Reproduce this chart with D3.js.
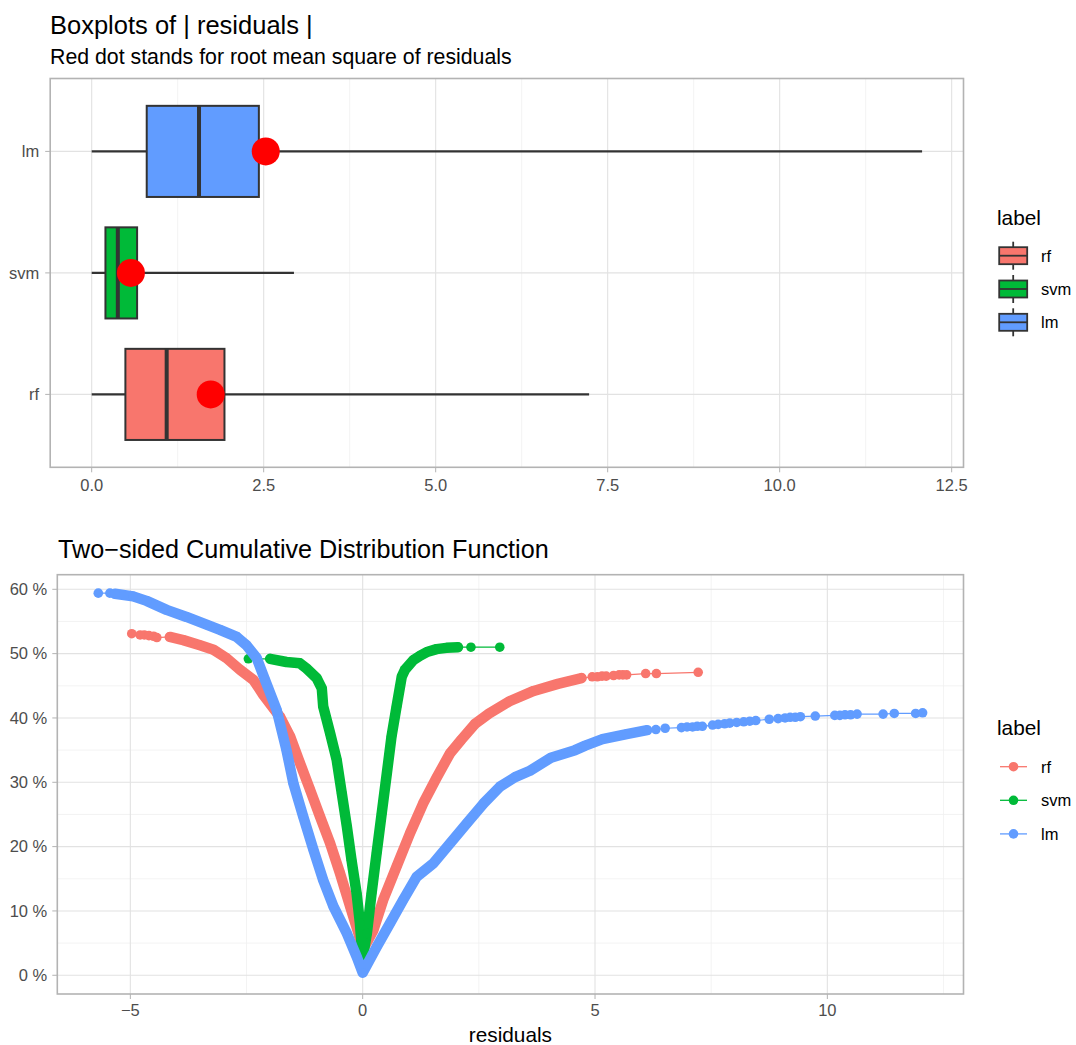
<!DOCTYPE html>
<html><head><meta charset="utf-8">
<script src="https://cdn.jsdelivr.net/npm/d3@7"></script>
<style>
body{margin:0;background:#fff}
text{font-family:"Liberation Sans",Arial,Helvetica,sans-serif}
</style>
</head><body>
<svg id="c" width="1076" height="1045"></svg>
<script>
// ---------- data ----------
const labels = ["rf", "svm", "lm"];
const colors = ["#F8766D", "#00BA38", "#619CFF"];

// boxplot statistics of |residuals|
const boxMin    = [0, 0, 0];
const boxQ1     = [0.49, 0.20, 0.80];
const boxMedian = [1.09, 0.38, 1.56];
const boxQ3     = [1.93, 0.66, 2.43];
const boxMax    = [7.23, 2.94, 12.07];
const rmse      = [1.73, 0.57, 2.53];

const boxTicks = [0, 2.5, 5, 7.5, 10, 12.5];
const boxTickLabels = ["0.0", "2.5", "5.0", "7.5", "10.0", "12.5"];
const cdfXTicks = [-5, 0, 5, 10];
const cdfXTickLabels = ["\u22125", "0", "5", "10"];
const cdfYTicks = [0, 0.1, 0.2, 0.3, 0.4, 0.5, 0.6];
const cdfYTickLabels = ["0 %", "10 %", "20 %", "30 %", "40 %", "50 %", "60 %"];

// two-sided CDF: dense body of each curve [residual, fraction]
const rfBody = [[-4.15,0.526],[-3.86,0.521],[-3.50,0.513],[-3.21,0.506],[-2.93,0.493],[-2.64,0.475],[-2.35,0.459],[-2.14,0.436],[-1.92,0.415],[-1.78,0.402],[-1.56,0.371],[-1.35,0.330],[-1.13,0.288],[-0.92,0.247],[-0.70,0.205],[-0.49,0.159],[-0.27,0.107],[-0.09,0.065],[0.0,0.039],[0.23,0.070],[0.44,0.117],[0.73,0.169],[1.02,0.221],[1.30,0.267],[1.59,0.307],[1.88,0.345],[2.12,0.366],[2.42,0.391],[2.72,0.407],[3.16,0.426],[3.68,0.442],[4.20,0.453],[4.71,0.462]];
// individually visible points at the ends
const rfTail = [[-4.97,0.531],[-4.79,0.529],[-4.70,0.529],[-4.60,0.528],[-4.50,0.527],[-4.43,0.525],[4.94,0.464],[5.05,0.464],[5.15,0.465],[5.24,0.465],[5.40,0.466],[5.52,0.467],[5.60,0.467],[5.68,0.467],[6.09,0.469],[6.32,0.469],[7.22,0.471]];

const svmBody = [[-1.99,0.492],[-1.64,0.487],[-1.35,0.485],[-1.21,0.477],[-0.99,0.462],[-0.88,0.446],[-0.85,0.418],[-0.70,0.376],[-0.56,0.335],[-0.45,0.283],[-0.34,0.231],[-0.24,0.179],[-0.13,0.127],[-0.06,0.081],[0.0,0.027],[0.09,0.065],[0.19,0.127],[0.30,0.190],[0.41,0.252],[0.52,0.314],[0.62,0.371],[0.73,0.418],[0.84,0.464],[0.91,0.475],[1.09,0.490],[1.24,0.497],[1.40,0.503],[1.59,0.507],[1.80,0.509],[2.05,0.510]];
const svmTail = [[-2.46,0.492],[2.33,0.510],[2.95,0.510]];

const lmBody = [[-5.33,0.593],[-4.94,0.589],[-4.65,0.582],[-4.22,0.568],[-3.79,0.557],[-3.36,0.545],[-3.07,0.537],[-2.71,0.526],[-2.50,0.513],[-2.28,0.493],[-2.10,0.459],[-1.85,0.412],[-1.64,0.350],[-1.49,0.298],[-1.28,0.247],[-1.06,0.195],[-0.85,0.148],[-0.63,0.107],[-0.34,0.065],[-0.13,0.029],[0.0,0.004],[0.30,0.044],[0.59,0.081],[0.87,0.117],[1.16,0.153],[1.52,0.174],[1.88,0.205],[2.24,0.236],[2.60,0.267],[2.95,0.293],[3.28,0.308],[3.60,0.318],[4.05,0.338],[4.57,0.350],[4.79,0.357],[5.16,0.367],[5.68,0.375],[6.12,0.381]];
const lmTail = [[-5.69,0.594],[-5.44,0.594],[6.31,0.382],[6.51,0.384],[6.86,0.385],[6.98,0.386],[7.10,0.386],[7.20,0.387],[7.31,0.387],[7.53,0.389],[7.65,0.390],[7.79,0.391],[7.90,0.392],[8.05,0.393],[8.20,0.394],[8.33,0.395],[8.46,0.396],[8.75,0.398],[8.94,0.399],[9.09,0.400],[9.20,0.401],[9.31,0.401],[9.42,0.402],[9.74,0.403],[10.16,0.404],[10.27,0.404],[10.38,0.405],[10.50,0.405],[10.64,0.406],[11.20,0.406],[11.44,0.407],[11.90,0.407],[12.05,0.408]];

const bodies = [rfBody, svmBody, lmBody];
const tails = [rfTail, svmTail, lmTail];

// ---------- style ----------
const GRID = "#E2E2E2", GRIDMINOR = "#F0F0F0", BORDER = "#B3B3B3", AXTXT = "#4D4D4D", DARK = "#333333";
const svg = d3.select("#c");

// ---------- top panel: boxplots ----------
const T = {l: 50.2, r: 963.5, t: 78.5, b: 467.3};
const xb = d3.scaleLinear().domain([-0.603, 12.672]).range([T.l, T.r]);
const yb = d3.scaleLinear().domain([0.4, 3.6]).range([T.b, T.t]);
const catPos = i => yb(i + 1);

svg.append("text").attr("x", 50).attr("y", 33.5).attr("font-size", 25.5).attr("fill", "#000").text("Boxplots of | residuals |");
svg.append("text").attr("x", 50).attr("y", 63.5).attr("font-size", 21.3).attr("fill", "#000").text("Red dot stands for root mean square of residuals");

const gT = svg.append("g");
gT.append("clipPath").attr("id", "clipT").append("rect").attr("x", T.l).attr("y", T.t).attr("width", T.r - T.l).attr("height", T.b - T.t);
const minorB = d3.range(1.25, 12.6, 2.5);
gT.selectAll(".mnx").data(minorB).join("line").attr("x1", d => xb(d)).attr("x2", d => xb(d)).attr("y1", T.t).attr("y2", T.b).attr("stroke", GRIDMINOR).attr("stroke-width", 0.8);
gT.selectAll(".mjx").data(boxTicks).join("line").attr("x1", d => xb(d)).attr("x2", d => xb(d)).attr("y1", T.t).attr("y2", T.b).attr("stroke", GRID).attr("stroke-width", 1.1);
gT.selectAll(".mjy").data(labels).join("line").attr("x1", T.l).attr("x2", T.r).attr("y1", (d, i) => catPos(i)).attr("y2", (d, i) => catPos(i)).attr("stroke", GRID).attr("stroke-width", 1.1);

const boxHalf = (yb(0) - yb(0.375));
labels.forEach((lab, i) => {
  const cy = catPos(i);
  const g = gT.append("g").attr("clip-path", "url(#clipT)");
  g.append("line").attr("x1", xb(boxMin[i])).attr("x2", xb(boxQ1[i])).attr("y1", cy).attr("y2", cy).attr("stroke", DARK).attr("stroke-width", 2.1);
  g.append("line").attr("x1", xb(boxQ3[i])).attr("x2", xb(boxMax[i])).attr("y1", cy).attr("y2", cy).attr("stroke", DARK).attr("stroke-width", 2.1);
  g.append("rect").attr("x", xb(boxQ1[i])).attr("y", cy - boxHalf).attr("width", xb(boxQ3[i]) - xb(boxQ1[i])).attr("height", 2 * boxHalf)
    .attr("fill", colors[i]).attr("stroke", DARK).attr("stroke-width", 2);
  g.append("line").attr("x1", xb(boxMedian[i])).attr("x2", xb(boxMedian[i])).attr("y1", cy - boxHalf).attr("y2", cy + boxHalf).attr("stroke", DARK).attr("stroke-width", 4);
  g.append("circle").attr("cx", xb(rmse[i])).attr("cy", cy).attr("r", 14).attr("fill", "#FF0000");
});
gT.append("rect").attr("x", T.l).attr("y", T.t).attr("width", T.r - T.l).attr("height", T.b - T.t).attr("fill", "none").attr("stroke", BORDER).attr("stroke-width", 1.6);
// axes
gT.selectAll(".tkx").data(boxTicks).join("line").attr("x1", d => xb(d)).attr("x2", d => xb(d)).attr("y1", T.b).attr("y2", T.b + 5).attr("stroke", BORDER).attr("stroke-width", 1);
gT.selectAll(".tlx").data(boxTicks).join("text").attr("x", d => xb(d)).attr("y", T.b + 23.5).attr("text-anchor", "middle").attr("font-size", 16.5).attr("fill", AXTXT).text((d, i) => boxTickLabels[i]);
gT.selectAll(".tky").data(labels).join("line").attr("x1", T.l - 5).attr("x2", T.l).attr("y1", (d, i) => catPos(i)).attr("y2", (d, i) => catPos(i)).attr("stroke", BORDER).attr("stroke-width", 1);
gT.selectAll(".tly").data(labels).join("text").attr("x", T.l - 11).attr("y", (d, i) => catPos(i) + 5.8).attr("text-anchor", "end").attr("font-size", 16.5).attr("fill", AXTXT).text(d => d);

// top legend
const LT = {x: 997, titleY: 225, key0: 255.7, step: 33.3, kx: 1013.2};
svg.append("text").attr("x", LT.x).attr("y", LT.titleY).attr("font-size", 20.8).attr("fill", "#000").text("label");
labels.forEach((lab, i) => {
  const cy = LT.key0 + i * LT.step;
  const g = svg.append("g");
  g.append("line").attr("x1", LT.kx).attr("x2", LT.kx).attr("y1", cy - 14).attr("y2", cy + 14).attr("stroke", DARK).attr("stroke-width", 1.8);
  g.append("rect").attr("x", LT.kx - 14).attr("y", cy - 8.5).attr("width", 28).attr("height", 17).attr("fill", colors[i]).attr("stroke", DARK).attr("stroke-width", 1.8);
  g.append("line").attr("x1", LT.kx - 14).attr("x2", LT.kx + 14).attr("y1", cy).attr("y2", cy).attr("stroke", DARK).attr("stroke-width", 1.8);
  g.append("text").attr("x", 1041).attr("y", cy + 5.8).attr("font-size", 16.5).attr("fill", "#000").text(lab);
});

// ---------- bottom panel: two-sided CDF ----------
const B = {l: 57.3, r: 963.5, t: 574.7, b: 994};
const xc = d3.scaleLinear().domain([-6.572, 12.93]).range([B.l, B.r]);
const yc = d3.scaleLinear().domain([-0.0291, 0.6227]).range([B.b, B.t]);

svg.append("text").attr("x", 58).attr("y", 558).attr("font-size", 25.2).attr("fill", "#000").text("Two\u2212sided Cumulative Distribution Function");

const gB = svg.append("g");
gB.append("clipPath").attr("id", "clipB").append("rect").attr("x", B.l).attr("y", B.t).attr("width", B.r - B.l).attr("height", B.b - B.t);
const minorCx = [-2.5, 2.5, 7.5, 12.5];
const minorCy = d3.range(0.05, 0.6, 0.1);
gB.selectAll(".mnx").data(minorCx).join("line").attr("x1", d => xc(d)).attr("x2", d => xc(d)).attr("y1", B.t).attr("y2", B.b).attr("stroke", GRIDMINOR).attr("stroke-width", 0.8);
gB.selectAll(".mny").data(minorCy).join("line").attr("x1", B.l).attr("x2", B.r).attr("y1", d => yc(d)).attr("y2", d => yc(d)).attr("stroke", GRIDMINOR).attr("stroke-width", 0.8);
gB.selectAll(".mjx").data(cdfXTicks).join("line").attr("x1", d => xc(d)).attr("x2", d => xc(d)).attr("y1", B.t).attr("y2", B.b).attr("stroke", GRID).attr("stroke-width", 1.1);
gB.selectAll(".mjy").data(cdfYTicks).join("line").attr("x1", B.l).attr("x2", B.r).attr("y1", d => yc(d)).attr("y2", d => yc(d)).attr("stroke", GRID).attr("stroke-width", 1.1);

const plotG = gB.append("g").attr("clip-path", "url(#clipB)");
const line = d3.line().x(d => xc(d[0])).y(d => yc(d[1]));
const allPts = labels.map((l, i) => bodies[i].concat(tails[i]).sort((a, b) => a[0] - b[0]));
// thin connecting lines
allPts.forEach((pts, i) => {
  plotG.append("path").attr("d", line(pts)).attr("fill", "none").attr("stroke", colors[i]).attr("stroke-width", 1.2);
});
// points (dense bodies render as a continuous trace of dots)
allPts.forEach((pts, i) => {
  plotG.append("path").attr("d", line(bodies[i])).attr("fill", "none").attr("stroke", colors[i]).attr("stroke-width", 10.5)
    .attr("stroke-linecap", "round").attr("stroke-linejoin", "round");
  plotG.selectAll(null).data(pts).join("circle").attr("cx", d => xc(d[0])).attr("cy", d => yc(d[1])).attr("r", 4.8).attr("fill", colors[i]);
});
gB.append("rect").attr("x", B.l).attr("y", B.t).attr("width", B.r - B.l).attr("height", B.b - B.t).attr("fill", "none").attr("stroke", BORDER).attr("stroke-width", 1.6);

gB.selectAll(".tkx").data(cdfXTicks).join("line").attr("x1", d => xc(d)).attr("x2", d => xc(d)).attr("y1", B.b).attr("y2", B.b + 5).attr("stroke", BORDER).attr("stroke-width", 1);
gB.selectAll(".tlx").data(cdfXTicks).join("text").attr("x", d => xc(d)).attr("y", B.b + 22).attr("text-anchor", "middle").attr("font-size", 16.5).attr("fill", AXTXT).text((d, i) => cdfXTickLabels[i]);
gB.selectAll(".tky").data(cdfYTicks).join("line").attr("x1", B.l - 5).attr("x2", B.l).attr("y1", d => yc(d)).attr("y2", d => yc(d)).attr("stroke", BORDER).attr("stroke-width", 1);
gB.selectAll(".tly").data(cdfYTicks).join("text").attr("x", B.l - 10).attr("y", d => yc(d) + 5.8).attr("text-anchor", "end").attr("font-size", 16.5).attr("fill", AXTXT).text((d, i) => cdfYTickLabels[i]);
svg.append("text").attr("x", (B.l + B.r) / 2).attr("y", 1042).attr("text-anchor", "middle").attr("font-size", 20.8).attr("fill", "#000").text("residuals");

// bottom legend
const LB = {x: 997, titleY: 735, key0: 766.7, step: 33.6, kx: 1013.5};
svg.append("text").attr("x", LB.x).attr("y", LB.titleY).attr("font-size", 20.8).attr("fill", "#000").text("label");
labels.forEach((lab, i) => {
  const cy = LB.key0 + i * LB.step;
  svg.append("line").attr("x1", LB.kx - 13.5).attr("x2", LB.kx + 13.5).attr("y1", cy).attr("y2", cy).attr("stroke", colors[i]).attr("stroke-width", 1.3);
  svg.append("circle").attr("cx", LB.kx).attr("cy", cy).attr("r", 4.8).attr("fill", colors[i]);
  svg.append("text").attr("x", 1041).attr("y", cy + 5.8).attr("font-size", 16.5).attr("fill", "#000").text(lab);
});
</script>
</body></html>
